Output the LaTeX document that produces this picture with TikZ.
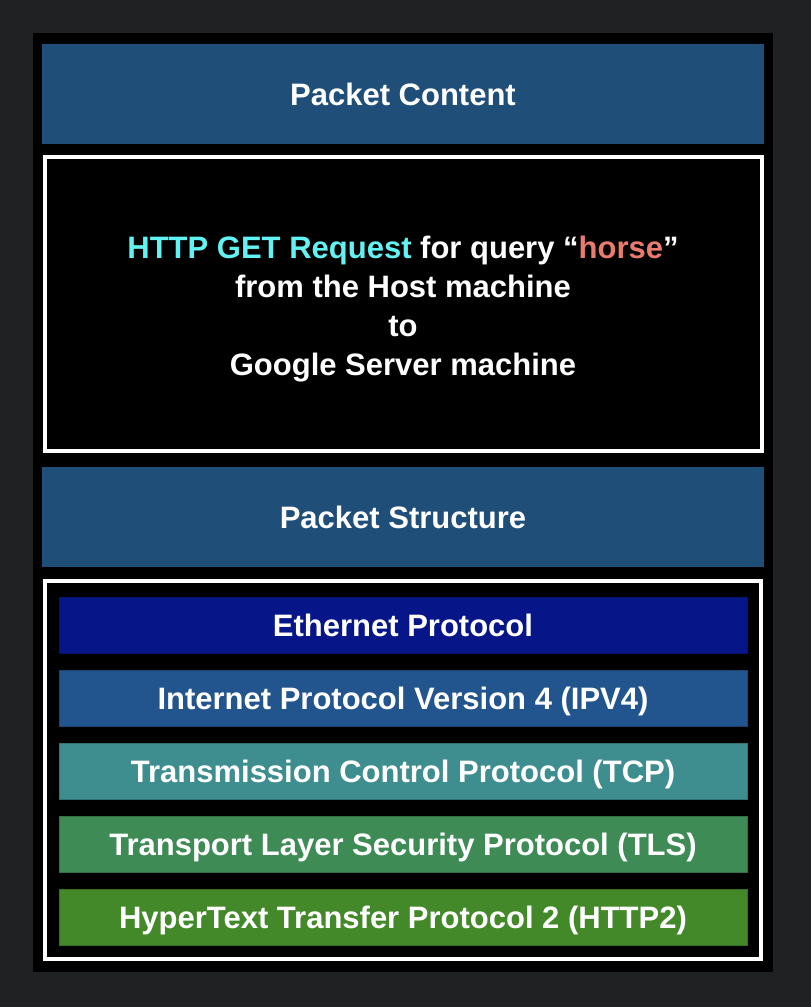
\documentclass[tikz,border=0pt]{standalone}
\usepackage{fontspec}
\setmainfont{Liberation Sans}
\definecolor{bgout}{HTML}{202122}
\definecolor{hdrblue}{HTML}{1F4E79}
\definecolor{ethc}{HTML}{061689}
\definecolor{ipc}{HTML}{22548D}
\definecolor{tcpc}{HTML}{3F8E8F}
\definecolor{tlsc}{HTML}{3E8B55}
\definecolor{httpc}{HTML}{43892A}
\definecolor{cyantxt}{HTML}{63F2F2}
\definecolor{salmon}{HTML}{EC7B6F}
\tikzset{
  bigtext/.style={text=white, font=\fontsize{31}{39}\selectfont\bfseries},
  oneline/.style={bigtext, text height=22pt, text depth=0pt},
  header/.style={oneline, fill=hdrblue, minimum width=722pt, minimum height=100pt, inner sep=0pt},
  frame/.style={draw=white, line width=4pt, fill=black, inner sep=0pt},
  bar/.style={oneline, fill=#1, draw=#1!80!black, line width=0.8pt, minimum width=688pt, minimum height=56pt, inner sep=0pt},
}
\begin{document}
\begin{tikzpicture}[x=1pt,y=-1pt]
\fill[bgout] (0,0) rectangle (811,1007);
\fill[black] (33,33) rectangle (773,972);
\node[header] (content) at (403,94) {Packet Content};
\node[frame, minimum width=717pt, minimum height=294pt] (cbox) at (403.5,304) {};
\node[bigtext, align=center] (ctext) at (403,309) {\textcolor{cyantxt}{HTTP GET Request} for query “\textcolor{salmon}{horse}”\\from the Host machine\\to\\Google Server machine};
\node[header] (structure) at (403,517) {Packet Structure};
\node[frame, minimum width=716pt, minimum height=378pt] (sbox) at (403,770) {};
\node[bar=ethc] (eth) at (403,625.5) {Ethernet Protocol};
\node[bar=ipc] (ip) at (403,698.5) {Internet Protocol Version 4 (IPV4)};
\node[bar=tcpc] (tcp) at (403,771.5) {Transmission Control Protocol (TCP)};
\node[bar=tlsc] (tls) at (403,844.5) {Transport Layer Security Protocol (TLS)};
\node[bar=httpc] (http) at (403,917) {HyperText Transfer Protocol 2 (HTTP2)};
\end{tikzpicture}
\end{document}
